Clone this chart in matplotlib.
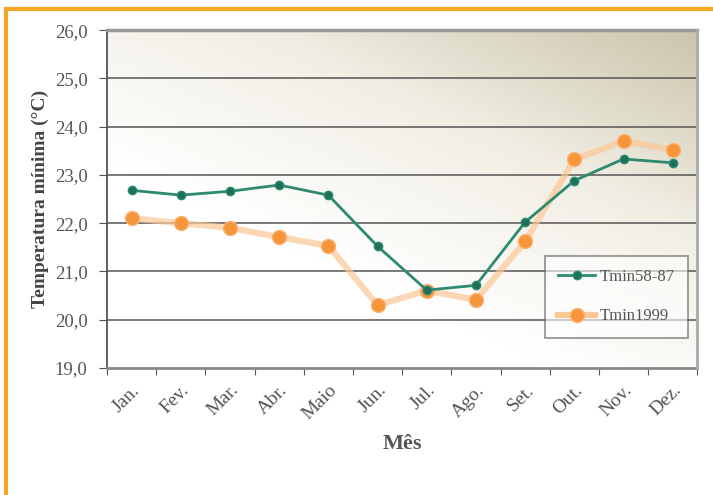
import numpy as np
import matplotlib
matplotlib.use('Agg')
import matplotlib.pyplot as plt
from matplotlib.colors import LinearSegmentedColormap
from matplotlib.ticker import FuncFormatter
from matplotlib.lines import Line2D

# Data
meses = ['Jan.', 'Fev.', 'Mar.', 'Abr.', 'Maio', 'Jun.', 'Jul.', 'Ago.',
         'Set.', 'Out.', 'Nov.', 'Dez.']
tmin_normal = [22.68, 22.58, 22.66, 22.79, 22.58, 21.52, 20.61, 20.71,
               22.02, 22.88, 23.33, 23.25]
tmin_1999 = [22.10, 22.00, 21.90, 21.71, 21.53, 20.30, 20.60, 20.41,
             21.62, 23.32, 23.70, 23.52]
nomes = ['Tmin58-87', 'Tmin1999']

plt.rcParams['font.family'] = ['Liberation Serif', 'DejaVu Serif']

fig = plt.figure(figsize=(7.13, 4.95), dpi=100)
ax = fig.add_axes([0.150, 0.257, 0.828, 0.682])

x = np.arange(len(meses))

# gradient background (white bottom-left to tan top-right)
gx, gy = np.meshgrid(np.linspace(0, 1, 200), np.linspace(0, 1, 200))
g = np.clip(0.6 * gx + 0.75 * gy - 0.45, 0, 1)
cmap = LinearSegmentedColormap.from_list('bg', ['#ffffff', '#f1eee4', '#cbc5ab'])
ax.imshow(g, cmap=cmap, origin='lower', extent=[-0.5, 11.5, 19, 26],
          aspect='auto', zorder=0, vmin=0, vmax=0.9)

ax.set_xlim(-0.5, 11.5)
ax.set_ylim(19, 26)

for yv in range(20, 27):
    ax.axhline(yv, color='#555555', lw=1.1, zorder=1)

ax.plot(x, tmin_1999, '-', color='#fcc796', lw=4.5, alpha=0.7, zorder=2)
ax.plot(x, tmin_1999, 'o', color='#f7953a', ms=10, mec='#fbb070', zorder=3,
        label=nomes[1])
ax.plot(x, tmin_normal, '-', color='#2b8a70', lw=2, marker='o', ms=6,
        mfc='#1f6e58', mec='#2b8a70', zorder=4, label=nomes[0])

h, l = ax.get_legend_handles_labels()
proxy_or = Line2D([], [], color='#fcc796', lw=4.5, marker='o', ms=10,
                  mfc='#f7953a', mec='#fbb070')
leg = ax.legend([h[1], proxy_or], [l[1], l[0]], loc='lower right',
                bbox_to_anchor=(0.985, 0.089), fontsize=12, frameon=True,
                fancybox=False, edgecolor='#555555', framealpha=0.6,
                borderpad=0.8, labelspacing=1.4, handlelength=2.2,
                handletextpad=0.3, borderaxespad=0)
leg.get_frame().set_linewidth(1.3)
for t in leg.get_texts():
    t.set_color('#555555')

ax.set_yticks(range(19, 27))
ax.yaxis.set_major_formatter(FuncFormatter(lambda v, p: f'{v:.1f}'.replace('.', ',')))
ax.set_xticks(np.arange(-0.5, 12, 1))
ax.set_xticklabels([])
ax.set_xticks(x, minor=True)
ax.set_xticklabels(meses, minor=True, rotation=45, ha='right', va='top',
                   rotation_mode='anchor', fontsize=14, color='#555555')
ax.tick_params(axis='x', which='minor', length=0, pad=10)
ax.tick_params(axis='x', which='major', length=5, color='#555555', direction='out')
ax.tick_params(axis='y', length=6, color='#555555', labelsize=13.5,
               labelcolor='#555555', pad=8)

for s in ['top', 'right']:
    ax.spines[s].set_visible(False)
ax.spines['left'].set_color('#555555')
ax.spines['left'].set_linewidth(1.3)
ax.spines['bottom'].set_color('#888888')
ax.spines['bottom'].set_linewidth(2)
ax.axhline(26, color='#999999', lw=2.5, zorder=5, clip_on=False)
ax.axvline(11.5, color='#aaaaaa', lw=2, zorder=5, clip_on=False)

ax.set_ylabel('Temperatura mínima (°C)', fontsize=14, fontweight='bold',
              color='#444444', labelpad=4)
ax.set_xlabel('Mês', fontsize=16, fontweight='bold', color='#555555', labelpad=8)

# orange frame (left and top)
fig.add_artist(Line2D([0.008, 0.008], [0, 0.982], color='#f5a623', lw=3,
                      transform=fig.transFigure))
fig.add_artist(Line2D([0.008, 1.0], [0.982, 0.982], color='#f5a623', lw=3,
                      transform=fig.transFigure))

fig.savefig('out.png', dpi=100)
